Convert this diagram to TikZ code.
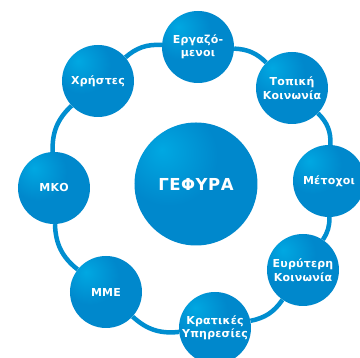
\documentclass[tikz,border=0pt]{standalone}
\usepackage{fontspec}
\setmainfont{DejaVu Sans}
\newfontfamily\lblfont{DejaVu Sans}[LetterSpace=2]
\newfontfamily\bigfont{DejaVu Sans}[LetterSpace=3]
\definecolor{bubbase}{RGB}{0,136,204}
\definecolor{bubedge}{RGB}{0,132,200}
\definecolor{bublight}{RGB}{0,168,226}
\definecolor{ringcol}{RGB}{0,142,208}
\pgfdeclareradialshading{bub}{\pgfpoint{-14bp}{14bp}}{color(0bp)=(bublight); color(20bp)=(bubbase); color(50bp)=(bubbase); color(70bp)=(bubedge); color(100bp)=(bubedge)}
\begin{document}
\begin{tikzpicture}[x=1pt,y=1pt,
  bubble/.style={circle, minimum size=72pt, inner sep=0pt, shading=bub, text=white,
    font=\lblfont\bfseries\fontsize{11}{13.5}\selectfont, align=center},
  bigbubble/.style={bubble, minimum size=123pt, font=\bigfont\bfseries\fontsize{16.5}{20}\selectfont},
  ring/.style={draw=ringcol, line width=4.5pt}]
\useasboundingbox (0,0) rectangle (360,358);
\fill[white] (0,0) rectangle (360,358);
% nodes
\node[bigbubble] (c) at (196,174) {ΓΕΦΥΡΑ};
\node[bubble] (xr) at (98,277) {Χρήστες};
\node[bubble] (er) at (198,311) {Εργαζό-\\μενοι};
\node[bubble] (tk) at (292,270) {Τοπική\\Κοινωνία};
\node[bubble] (me) at (329,177) {Μέτοχοι};
\node[bubble] (ek) at (303,88) {Ευρύτερη\\Κοινωνία};
\node[bubble] (ky) at (215,30) {Κρατικές\\Υπηρεσίες};
\node[bubble] (mm) at (106,66) {ΜΜΕ};
\node[bubble] (mk) at (54,170) {ΜΚΟ};
% ring connectors
\draw[ring] (mk) to[bend left=24.5] (xr);
\draw[ring] (xr) to[bend left=22] (er);
\draw[ring] (er) to[bend left=21] (tk);
\draw[ring] (tk) to[bend left=24] (me);
\draw[ring] (me) to[bend left=17] (ek);
\draw[ring] (ek) to[bend left=22] (ky);
\draw[ring] (ky) to[bend left=24.5] (mm);
\draw[ring] (mm) to[bend left=25] (mk);
\end{tikzpicture}
\end{document}
